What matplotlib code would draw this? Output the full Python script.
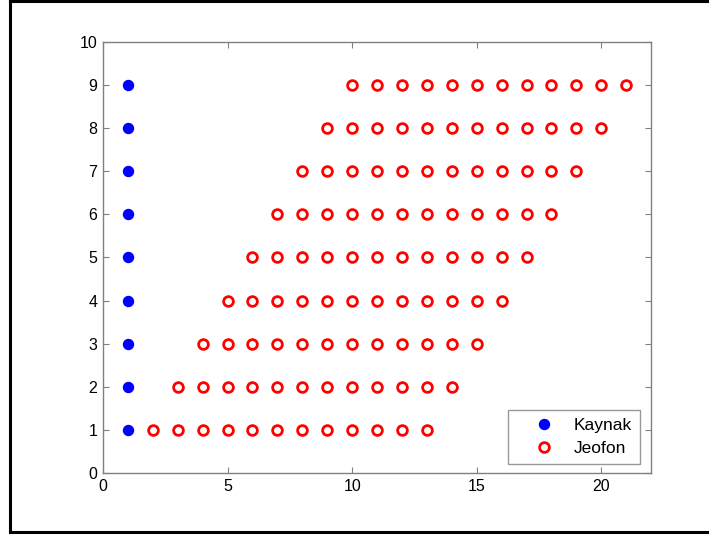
import matplotlib
matplotlib.use("Agg")
import matplotlib.pyplot as plt

plt.rcParams['font.family'] = ['Liberation Sans', 'DejaVu Sans']

# Kaynak (source) points
kaynak_x = [1, 1, 1, 1, 1, 1, 1, 1, 1]
kaynak_y = [1, 2, 3, 4, 5, 6, 7, 8, 9]

# Jeofon (geophone) rows: y level, first x, last x
jeofon_rows = [1, 2, 3, 4, 5, 6, 7, 8, 9]
jeofon_start = [2, 3, 4, 5, 6, 7, 8, 9, 10]
jeofon_end = [13, 14, 15, 16, 17, 18, 19, 20, 21]

jx, jy = [], []
for y, s, e in zip(jeofon_rows, jeofon_start, jeofon_end):
    for x in range(s, e + 1):
        jx.append(x)
        jy.append(y)

x_ticks = [0, 5, 10, 15, 20]
y_ticks = [0, 1, 2, 3, 4, 5, 6, 7, 8, 9, 10]

fig = plt.figure(figsize=(7.09, 5.35), dpi=100)
ax = fig.add_axes([0.1453, 0.1159, 0.773, 0.8056])

ax.plot(kaynak_x, kaynak_y, 'o', color='#0000ff', markersize=7.2,
        linestyle='none', label='Kaynak')
ax.plot(jx, jy, 'o', markerfacecolor='white', markeredgecolor='#ff0000',
        markeredgewidth=2.0, markersize=7.0, linestyle='none', label='Jeofon')

ax.set_xlim(0, 22)
ax.set_ylim(0, 10)
ax.set_xticks(x_ticks)
ax.set_yticks(y_ticks)
ax.tick_params(direction='in', length=4, width=0.8, color='#808080',
               labelsize=11.5, pad=4, top=True, right=True)
for sp in ax.spines.values():
    sp.set_color('#808080')
    sp.set_linewidth(1.0)

leg = ax.legend(loc='lower right', fontsize=12.5, frameon=True, fancybox=False,
                edgecolor='#808080', handlelength=3.2, handletextpad=0.15,
                borderpad=0.45, labelspacing=0.45,
                bbox_to_anchor=(0.980, 0.022), borderaxespad=0.0)
leg.get_frame().set_linewidth(1.0)

# outer frame (left, top, bottom)
fig.add_artist(plt.Line2D([10/709, 10/709], [3/535, 534/535], color='black', lw=2.2, transform=fig.transFigure))
fig.add_artist(plt.Line2D([10/709, 1.0], [534/535, 534/535], color='black', lw=2.2, transform=fig.transFigure))
fig.add_artist(plt.Line2D([10/709, 1.0], [3/535, 3/535], color='black', lw=2.2, transform=fig.transFigure))

fig.savefig('out.png', dpi=100)
